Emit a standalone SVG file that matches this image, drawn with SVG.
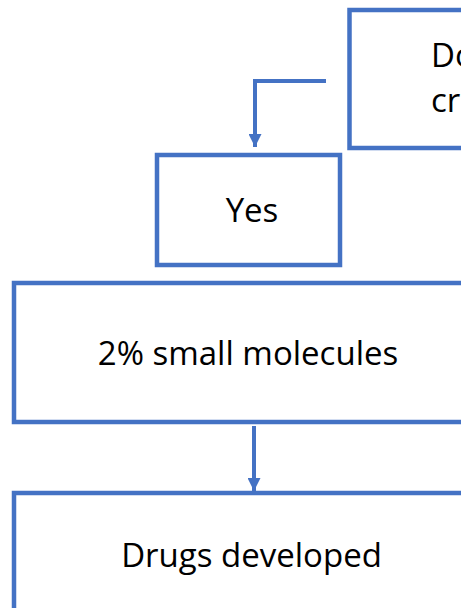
<svg xmlns="http://www.w3.org/2000/svg" width="461" height="608" viewBox="0 0 461 608">
<defs>
<style>
.box{fill:#fff;stroke:#4472C4;stroke-width:4.5}
.conn{fill:none;stroke:#4472C4;stroke-width:4}
.lbl{font-family:"Open Sans","Noto Sans","Liberation Sans",sans-serif;font-size:33px;fill:#000}
</style>
<marker id="ah" markerUnits="userSpaceOnUse" markerWidth="14" markerHeight="13" refX="14" refY="7" orient="auto" viewBox="0 0 14 14">
<path d="M0,0 L14,7 L0,14 Z" fill="#4472C4"/>
</marker>
</defs>
<rect width="461" height="608" fill="#fff"/>
<g id="connectors">
<path class="conn" d="M326,81 H255 V147" marker-end="url(#ah)"/>
<path class="conn" d="M254,426 V491" marker-end="url(#ah)"/>
</g>
<g id="node-question">
<rect class="box" x="349.5" y="10" width="130" height="138"/>
<text class="lbl" x="431" y="67">Do</text>
<text class="lbl" x="431" y="112">cr</text>
</g>
<g id="node-yes">
<rect class="box" x="157" y="155" width="183" height="110"/>
<text class="lbl" x="252" y="222" text-anchor="middle">Yes</text>
</g>
<g id="node-small">
<rect class="box" x="14" y="283" width="470" height="139"/>
<text class="lbl" x="248" y="365" text-anchor="middle">2% small molecules</text>
</g>
<g id="node-drugs">
<rect class="box" x="14" y="493" width="470" height="140"/>
<text class="lbl" x="251.5" y="567" text-anchor="middle">Drugs developed</text>
</g>
</svg>
